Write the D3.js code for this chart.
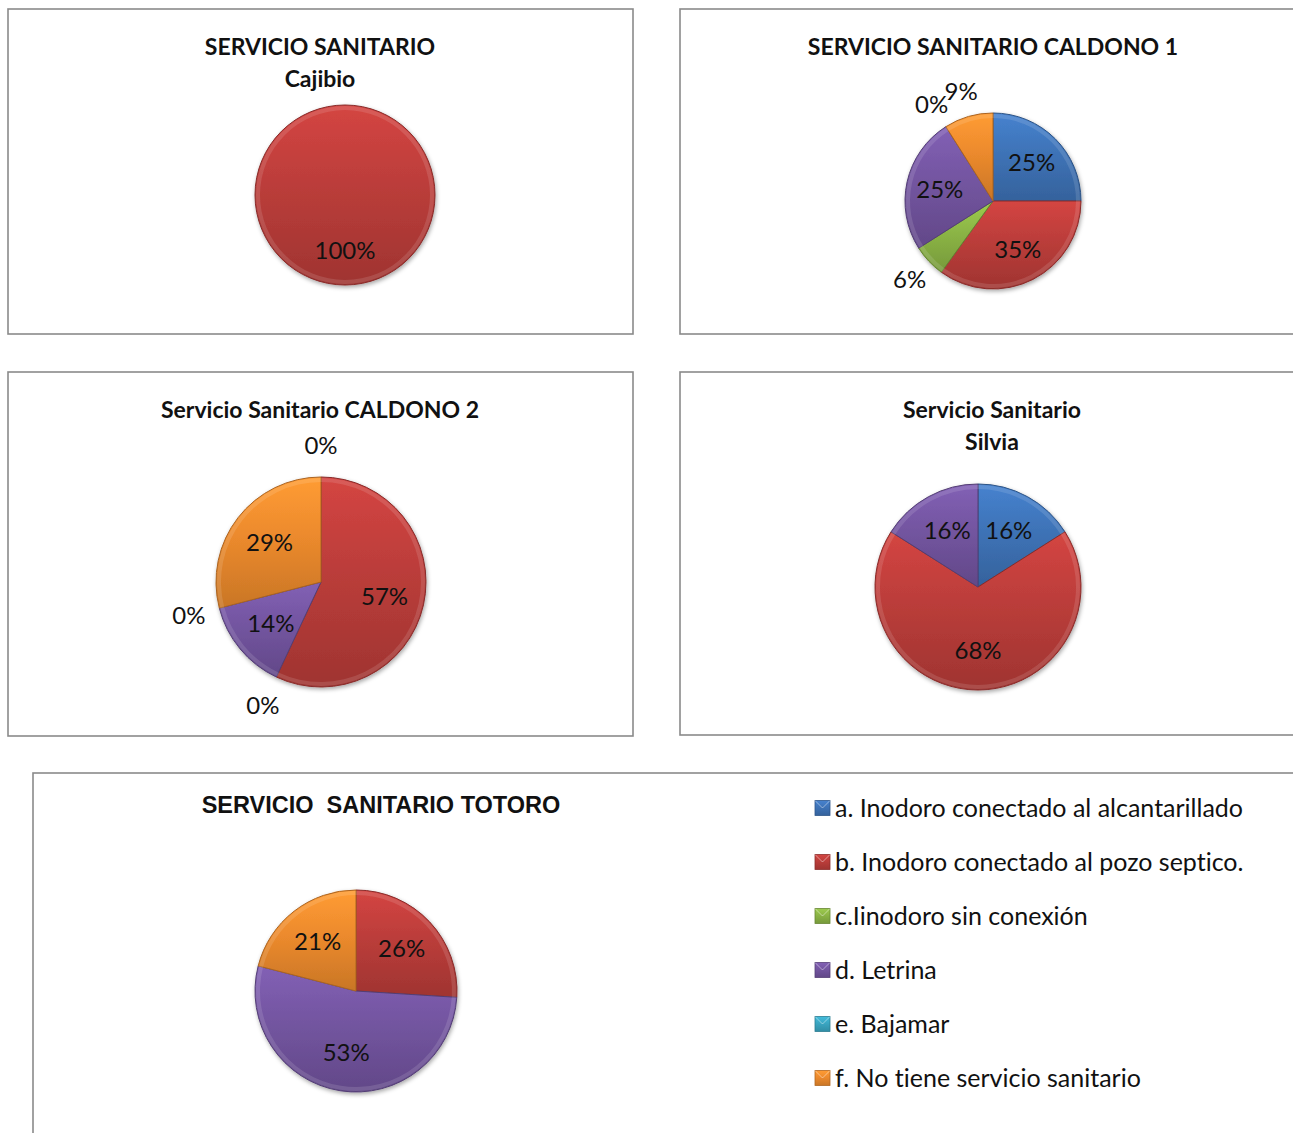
<!DOCTYPE html>
<html><head><meta charset="utf-8">
<script src="https://cdn.jsdelivr.net/npm/d3@7/dist/d3.min.js"></script>
<style>body{margin:0;background:#fff}svg{display:block}text{white-space:pre;font-variant-ligatures:none;font-feature-settings:"liga" 0}</style>
</head><body>
<script>
// ---- data ----
const categories = ["a. Inodoro conectado al alcantarillado","b. Inodoro conectado al pozo septico.","c.Iinodoro sin conexión","d. Letrina","e. Bajamar","f. No tiene servicio sanitario"];
const cajibio  = [null,100,null,null,null,null];
const caldono1 = [25,35,6,25,0,9];
const caldono2 = [0,57,0,14,0,29];
const silvia   = [16,68,null,16,null,null];
const totoro   = [null,26,null,53,null,21];
const titles = [["SERVICIO SANITARIO","Cajibio"],["SERVICIO SANITARIO CALDONO 1"],["Servicio Sanitario CALDONO 2"],["Servicio Sanitario","Silvia"],["SERVICIO  SANITARIO TOTORO"]];
const colors = ["#3e73b7","#bb3d3a","#8bb445","#7355a0","#3aa6c2","#ec8a2d"];

// ---- layout ----
const W = 1293, H = 1133;
const panels = [
  {data:cajibio,  x:8,  y:9,   w:625, h:325, tx:320, ty:47, font:"Lato", fs:23, cx:345, cy:195, r:90},
  {data:caldono1, x:680,y:9,   w:700, h:325, tx:993, ty:47, font:"Lato", fs:23, cx:993, cy:201, r:88},
  {data:caldono2, x:8,  y:372, w:625, h:364, tx:320, ty:410,font:"Lato", fs:23, cx:321, cy:582, r:105},
  {data:silvia,   x:680,y:372, w:700, h:363, tx:992, ty:410,font:"Lato", fs:23, cx:978, cy:587, r:103},
  {data:totoro,   x:33, y:773, w:1400,h:500, tx:381, ty:805,font:"Liberation Sans", fs:23.5, cx:356, cy:991, r:101}
];

const svg = d3.select("body").append("svg").attr("width",W).attr("height",H);
const defs = svg.append("defs");
colors.forEach((c,i)=>{
  const g = defs.append("linearGradient").attr("id","g"+i).attr("x1",0).attr("y1",0).attr("x2",0).attr("y2",1);
  g.append("stop").attr("offset","0%").attr("stop-color",d3.color(c).brighter(0.35));
  g.append("stop").attr("offset","45%").attr("stop-color",c);
  g.append("stop").attr("offset","100%").attr("stop-color",d3.color(c).darker(0.45));
});
const sh = defs.append("filter").attr("id","shadow").attr("x","-10%").attr("y","-10%").attr("width","130%").attr("height","130%");
sh.append("feDropShadow").attr("dx",1).attr("dy",2).attr("stdDeviation",2).attr("flood-color","#000").attr("flood-opacity",0.35);

panels.forEach((p,pi)=>{
  svg.append("rect").attr("x",p.x).attr("y",p.y).attr("width",p.w).attr("height",p.h)
    .attr("fill","#fff").attr("stroke","#8a8a8a").attr("stroke-width",1.6);
  titles[pi].forEach((line,li)=>{
    svg.append("text").attr("x",p.tx).attr("y",p.ty + li*32).attr("dy","0.35em").attr("text-anchor","middle")
      .attr("font-family",p.font).attr("font-weight","bold").attr("font-size",p.fs+"px").attr("fill","#111")
      .text(line);
  });

  const items = p.data.map((v,i)=>({v,i})).filter(d=>d.v!==null);
  const pie = d3.pie().sort(null).value(d=>d.v);
  const arcs = pie(items);
  const arc = d3.arc().innerRadius(0).outerRadius(p.r);
  const g = svg.append("g").attr("transform",`translate(${p.cx},${p.cy})`);
  const sg = g.append("g").attr("filter","url(#shadow)");
  sg.selectAll("path").data(arcs.filter(a=>a.data.v>0)).join("path")
    .attr("d",arc).attr("fill",d=>`url(#g${d.data.i})`)
    .attr("stroke",d=>d3.color(colors[d.data.i]).darker(0.9)).attr("stroke-width",1).attr("stroke-linejoin","round");
  const rim = d3.arc().innerRadius(p.r-5).outerRadius(p.r-1);
  g.selectAll("path.rim").data(arcs.filter(a=>a.data.v>0)).join("path").attr("class","rim")
    .attr("d",rim).attr("fill","#fff").attr("opacity",0.12);

  const inner = d3.arc().innerRadius(p.r*0.62).outerRadius(p.r*0.62);
  const outer = d3.arc().innerRadius(p.r*1.3).outerRadius(p.r*1.3);
  g.selectAll("text").data(arcs).join("text")
    .attr("transform",d=>{
      const a = (d.data.v<10 ? outer : inner).centroid(d);
      return `translate(${a[0]},${a[1]})`;
    })
    .attr("text-anchor","middle").attr("dy","0.35em")
    .attr("font-family","Lato").attr("font-size","24px").attr("fill","#111")
    .text(d=>d.data.v+"%");
});

// legend
const lg = svg.append("g");
const ly = d3.scalePoint().domain(d3.range(categories.length)).range([808,1078]);
categories.forEach((c,i)=>{
  lg.append("rect").attr("x",815).attr("y",ly(i)-7.5).attr("width",15).attr("height",15)
    .attr("fill",`url(#g${i})`).attr("stroke",d3.color(colors[i]).darker(0.8)).attr("stroke-width",0.8);
  lg.append("path").attr("d",`M815,${ly(i)-7.5} L822.5,${ly(i)} L830,${ly(i)-7.5}`)
    .attr("fill","none").attr("stroke","#fff").attr("stroke-opacity",0.45).attr("stroke-width",1);
  lg.append("text").attr("x",835).attr("y",ly(i)).attr("dy","0.35em")
    .attr("font-family","Lato").attr("font-size","25px").attr("fill","#111").text(c);
});
</script>
</body></html>
